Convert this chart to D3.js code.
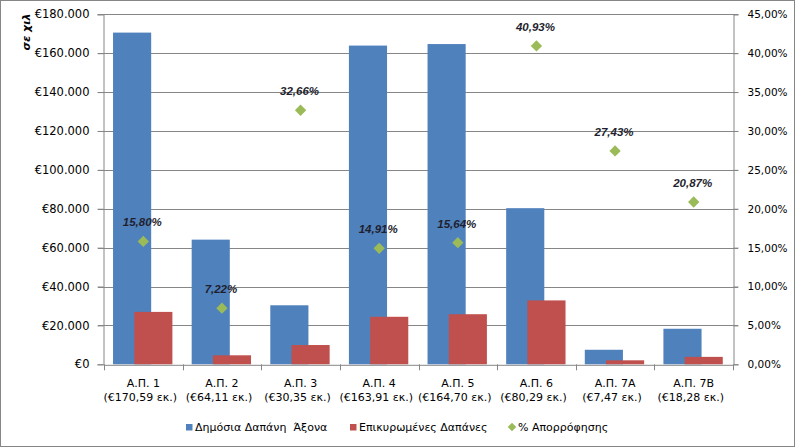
<!DOCTYPE html>
<html><head><meta charset="utf-8">
<script src="https://cdn.jsdelivr.net/npm/d3@7"></script>
<style>body{margin:0;background:#fff}svg{display:block;font-family:"DejaVu Sans",Verdana,sans-serif}</style>
</head><body>
<svg id="c" width="795" height="447"></svg>
<script>
const categories = ["Α.Π. 1","Α.Π. 2","Α.Π. 3","Α.Π. 4","Α.Π. 5","Α.Π. 6","Α.Π. 7Α","Α.Π. 7Β"];
const subLabels = ["(€170,59 εκ.)","(€64,11 εκ.)","(€30,35 εκ.)","(€163,91 εκ.)","(€164,70 εκ.)","(€80,29 εκ.)","(€7,47 εκ.)","(€18,28 εκ.)"];
const publicSpend = [170590, 64110, 30350, 163910, 164700, 80290, 7470, 18280];
const certifiedSpend = [26950, 4630, 9910, 24440, 25760, 32860, 2050, 3820];
const absorption = [15.80, 7.22, 32.66, 14.91, 15.64, 40.93, 27.43, 20.87];
const leftTicks = [0,20000,40000,60000,80000,100000,120000,140000,160000,180000];
const rightTicks = [0,5,10,15,20,25,30,35,40,45];
const seriesNames = ["Δημόσια Δαπάνη  Άξονα","Επικυρωμένες Δαπάνες","% Απορρόφησης"];
const yTitle = "σε χιλ";

const svg = d3.select("#c");
const L=104, R=733, T=14.3, B=364.3;
const grid="#868686";
svg.append("rect").attr("x",0.5).attr("y",0.5).attr("width",794).attr("height",446).attr("fill","#fff").attr("stroke","#868686");

const x = d3.scaleBand().domain(categories).range([L,R]);
const y = d3.scaleLinear().domain([0,180000]).range([B,T]);
const y2 = d3.scaleLinear().domain([0,45]).range([B,T]);
const bw = x.bandwidth();
const fmtL = v => "€" + d3.format(",")(v).replace(/,/g,".");
const fmtR = v => d3.format(".2f")(v).replace(".",",") + "%";

// gridlines
svg.append("g").selectAll("line").data(leftTicks.slice(1)).join("line")
  .attr("x1",L-6).attr("x2",R+5).attr("y1",d=>Math.round(y(d))+0.5).attr("y2",d=>Math.round(y(d))+0.5)
  .attr("stroke",grid).attr("stroke-width",1);

// left axis
const gl = svg.append("g").attr("transform",`translate(${L-0.5},0)`)
  .call(d3.axisLeft(y).tickValues(leftTicks).tickFormat(fmtL).tickSize(6).tickPadding(8));
gl.select(".domain").attr("stroke",grid);
gl.selectAll(".tick line").attr("stroke",grid);
gl.selectAll("text").attr("font-size",11.5).attr("fill","#000").attr("font-family","DejaVu Sans");

// right axis
const gr = svg.append("g").attr("transform",`translate(${R+0.5},0)`)
  .call(d3.axisRight(y2).tickValues(rightTicks).tickFormat(fmtR).tickSize(5).tickPadding(9));
gr.select(".domain").attr("stroke",grid);
gr.selectAll(".tick line").attr("stroke",grid);
gr.selectAll("text").attr("font-size",10.5).attr("fill","#000").attr("font-family","DejaVu Sans");

// bars
const barW = bw*0.485, off1 = bw*0.115, off2 = bw*0.385;
svg.append("g").selectAll("rect").data(categories).join("rect")
  .attr("x",(d,i)=>x(d)+off1).attr("width",barW)
  .attr("y",(d,i)=>y(publicSpend[i])).attr("height",(d,i)=>B-y(publicSpend[i]))
  .attr("fill","#4F81BD");
svg.append("g").selectAll("rect").data(categories).join("rect")
  .attr("x",(d,i)=>x(d)+off2).attr("width",barW)
  .attr("y",(d,i)=>y(certifiedSpend[i])).attr("height",(d,i)=>B-y(certifiedSpend[i]))
  .attr("fill","#C0504D");

// x axis
const gx = svg.append("g").attr("transform",`translate(0,${B+0.5})`)
  .call(d3.axisBottom(x).tickSize(0).tickFormat(""));
gx.select(".domain").attr("stroke",grid);
gx.selectAll(".tick").remove();
svg.append("g").selectAll("line").data(categories.concat(["end"])).join("line")
  .attr("x1",(d,i)=>Math.round(L+i*bw)+0.5).attr("x2",(d,i)=>Math.round(L+i*bw)+0.5)
  .attr("y1",B).attr("y2",B+6).attr("stroke",grid);
const cl = svg.append("g").selectAll("text").data(categories).join("text")
  .attr("x",d=>x(d)+bw/2).attr("text-anchor","middle").attr("font-size",11).attr("fill","#000");
cl.append("tspan").attr("x",d=>x(d)+bw/2).attr("y",387).text(d=>d);
cl.append("tspan").attr("x",d=>x(d)+bw/2-3).attr("y",401).text((d,i)=>subLabels[i]);

// points
svg.append("g").selectAll("path").data(categories).join("path")
  .attr("transform",(d,i)=>`translate(${x(d)+bw/2},${y2(absorption[i])}) rotate(45)`)
  .attr("d",d3.symbol().type(d3.symbolSquare).size(64)).attr("fill","#9BBB59");
svg.append("g").selectAll("text").data(categories).join("text")
  .attr("x",d=>x(d)+bw/2-1).attr("y",(d,i)=>y2(absorption[i])-15)
  .attr("text-anchor","middle").attr("font-size",11.5).attr("font-weight","bold").attr("font-style","italic")
  .attr("font-family","Liberation Sans, Arial, sans-serif")
  .attr("fill","#1F1F2F").text((d,i)=>fmtR(absorption[i]));

// y title
svg.append("text").attr("transform","translate(30,32) rotate(-90)").attr("text-anchor","middle")
  .attr("font-size",11).attr("font-weight","bold").attr("font-style","italic").text(yTitle);

// legend
const lg = svg.append("g");
const lx = [186, 350, 509];
const colors = ["#4F81BD","#C0504D","#9BBB59"];
seriesNames.forEach((n,i)=>{
  if(i<2) lg.append("rect").attr("x",lx[i]).attr("y",424).attr("width",6.5).attr("height",6.5).attr("fill",colors[i]);
  else lg.append("path").attr("transform",`translate(${lx[i]+3},427) rotate(45)`).attr("d",d3.symbol().type(d3.symbolSquare).size(36)).attr("fill",colors[i]);
  lg.append("text").attr("x",lx[i]+9).attr("y",431).attr("font-size",11).attr("fill","#000").style("white-space","pre").text(n);
});
</script>
</body></html>
